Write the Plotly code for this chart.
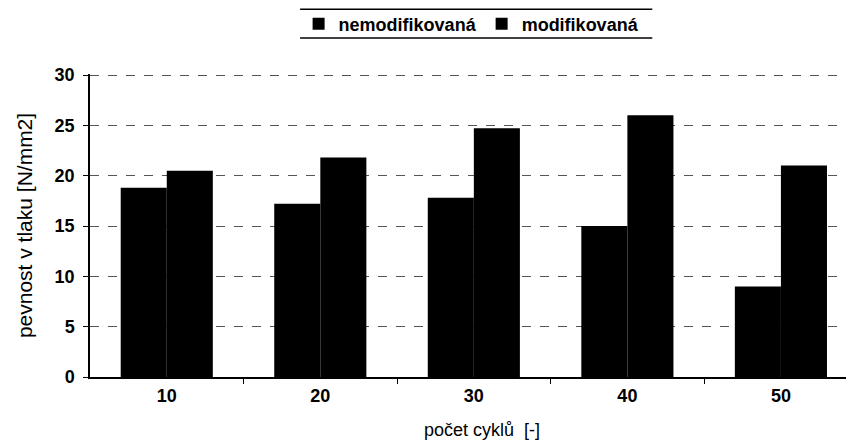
import plotly.graph_objects as go

cycles = [10, 20, 30, 40, 50]
nemodifikovana = [18.8, 17.2, 17.8, 15.0, 9.0]
modifikovana = [20.5, 21.8, 24.7, 26.0, 21.0]
y_ticks = [0, 5, 10, 15, 20, 25, 30]

fig = go.Figure()
fig.add_trace(go.Bar(x=cycles, y=nemodifikovana, name="nemodifikovaná",
                     marker=dict(color="black", line=dict(width=0))))
fig.add_trace(go.Bar(x=cycles, y=modifikovana, name="modifikovaná",
                     marker=dict(color="black", line=dict(width=0))))

FONT = "Liberation Sans, Arial, sans-serif"
tick_font = dict(family=FONT, size=18, color="black", weight="bold")

fig.update_layout(
    width=846, height=435,
    margin=dict(l=82, r=0, t=66, b=66, autoexpand=False),
    paper_bgcolor="white", plot_bgcolor="white",
    barmode="group", bargap=0.4, bargroupgap=0,
    showlegend=True,
    legend=dict(orientation="h", xref="container", yref="container",
                x=0.548, y=0.963, xanchor="center", yanchor="middle",
                font=dict(family=FONT, size=18, color="black", weight="bold"),
                bgcolor="rgba(0,0,0,0)", itemwidth=30, tracegroupgap=0),
    xaxis=dict(
        range=[5, 54.76], tickvals=cycles, ticktext=[str(c) for c in cycles],
        ticks="", showgrid=False, zeroline=False,
        showline=True, linecolor="black", linewidth=1.5,
        tickfont=tick_font, ticklabelstandoff=2,
        minor=dict(tickvals=[15, 25, 35, 45], ticks="outside", ticklen=5, tickcolor="black", showgrid=False),
    ),
    yaxis=dict(
        range=[0, 30.1], tickvals=y_ticks, ticks="outside", ticklen=5, tickcolor="black",
        showline=True, linecolor="black", linewidth=1.5, zeroline=False,
        showgrid=True, gridcolor="#555555", griddash="dash", gridwidth=1,
        tickfont=tick_font, ticklabelstandoff=5,
        title=dict(text="pevnost v tlaku [N/mm2]", standoff=16,
                   font=dict(family=FONT, size=21, color="black")),
    ),
    annotations=[dict(text="počet cyklů  [-]", xref="paper", yref="paper", x=0.513, y=-0.215,
                      xanchor="center", yanchor="bottom", showarrow=False,
                      font=dict(family=FONT, size=18, color="black"))],
    shapes=[
        dict(type="line", xref="paper", yref="paper", x0=0.275, x1=0.736, y0=1.214, y1=1.214,
             line=dict(color="black", width=1.5)),
        dict(type="line", xref="paper", yref="paper", x0=0.275, x1=0.736, y0=1.119, y1=1.119,
             line=dict(color="black", width=1.5)),
    ],
)

fig.write_html("out.html")
